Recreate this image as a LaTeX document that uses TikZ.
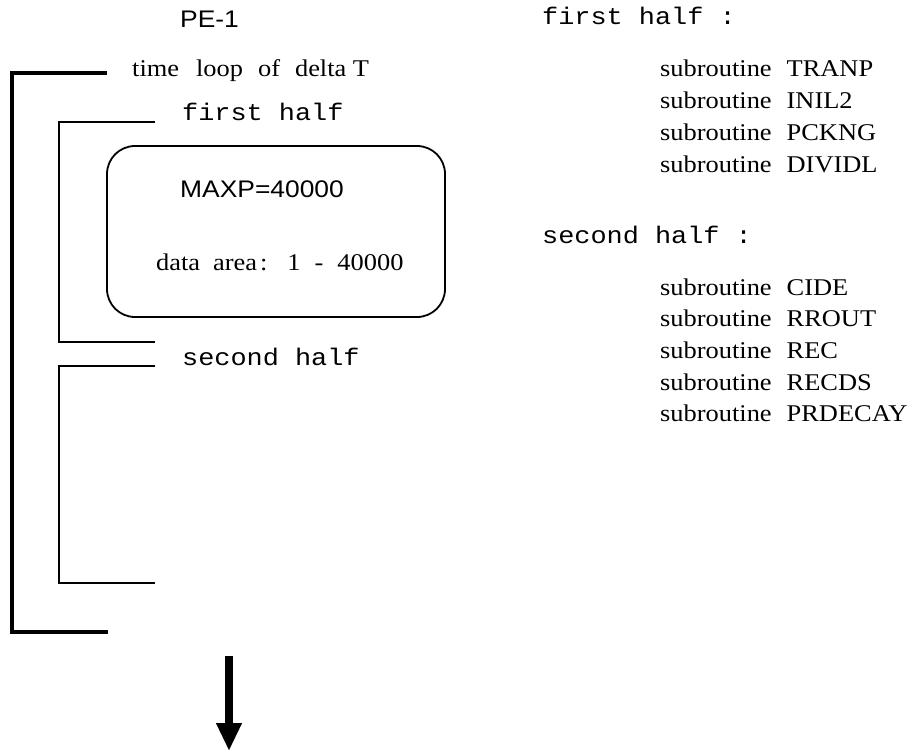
\documentclass[tikz,border=0pt]{standalone}
\usepackage{fontspec}
\setmainfont{Liberation Serif}[FakeStretch=1.1]
\setsansfont{Liberation Sans}[FakeStretch=1.1]
\setmonofont{Liberation Mono}[FakeStretch=1.12]
\usetikzlibrary{arrows.meta}
\begin{document}
\begin{tikzpicture}[x=1pt,y=-1pt,
  txt/.style={inner sep=0pt,anchor=base west,font=\fontsize{24}{30}\selectfont},
  mono/.style={txt,font=\fontsize{24}{30}\selectfont\ttfamily},
  sans/.style={txt,font=\fontsize{24}{30}\selectfont\sffamily},
  thick bracket/.style={line width=4.5pt,line join=miter},
  thin bracket/.style={line width=1.8pt,line join=miter},
  membox/.style={draw,line width=1.8pt,rounded corners=28pt,minimum width=338pt,minimum height=171pt,inner sep=0pt},
  bigarrow/.style={line width=8pt,-{Triangle[width=24pt,length=28pt]}}]
\useasboundingbox (0,0) rectangle (920,752);

% titles
\node[sans] (pe) at (180,28) {PE-1};
\node[txt] (tl) at (132,76) {time\hspace{17pt}loop\hspace{15pt}of\hspace{15pt}delta T};
\node[mono] (fh) at (182,120) {first half};
\node[mono] (sh) at (182,365) {second half};

% thick outer bracket
\coordinate (o1) at (107,73);
\coordinate (o2) at (12,73);
\coordinate (o3) at (12,632);
\coordinate (o4) at (108,632);
\draw[thick bracket] (o1) -- (o2) -- (o3) -- (o4);

% first half bracket
\coordinate (f1) at (155,122);
\coordinate (f2) at (59,122);
\coordinate (f3) at (59,342);
\coordinate (f4) at (155,342);
\draw[thin bracket] (f1) -- (f2) -- (f3) -- (f4);

% second half bracket
\coordinate (g1) at (155,366);
\coordinate (g2) at (59,366);
\coordinate (g3) at (59,583);
\coordinate (g4) at (155,583);
\draw[thin bracket] (g1) -- (g2) -- (g3) -- (g4);

% memory box
\node[membox] (box) at (276,231.5) {};
\node[sans] (maxp) at (180,197) {MAXP=40000};
\node[txt] (da) at (156,270) {data\hspace{13pt}area\hspace{3pt}:\hspace{20pt}1\hspace{14pt}-\hspace{14pt}40000};

% arrow
\coordinate (aS) at (229,656);
\coordinate (aE) at (229,751);
\draw[bigarrow] (aS) -- (aE);

% right column
\node[mono] (rf) at (542,25) {first half :};
\node[txt] (s1) at (660,77) {subroutine\hspace{15pt}TRANP};
\node[txt] (s2) at (660,108.7) {subroutine\hspace{15pt}INIL2};
\node[txt] (s3) at (660,140.4) {subroutine\hspace{15pt}PCKNG};
\node[txt] (s4) at (660,172) {subroutine\hspace{15pt}DIVIDL};
\node[mono] (rs) at (542,243) {second half :};
\node[txt] (t1) at (660,295) {subroutine\hspace{15pt}CIDE};
\node[txt] (t2) at (660,326.7) {subroutine\hspace{15pt}RROUT};
\node[txt] (t3) at (660,358.4) {subroutine\hspace{15pt}REC};
\node[txt] (t4) at (660,390) {subroutine\hspace{15pt}RECDS};
\node[txt] (t5) at (660,421.7) {subroutine\hspace{15pt}PRDECAY};
\end{tikzpicture}
\end{document}
